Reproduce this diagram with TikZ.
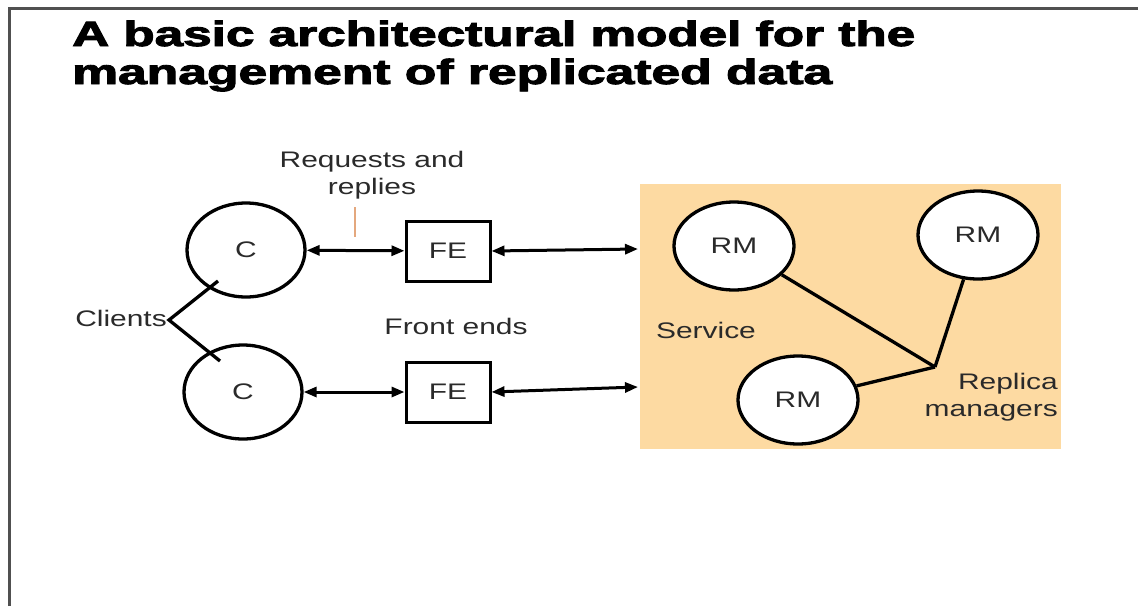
\documentclass[tikz,border=0pt]{standalone}
\usepackage{fontspec}
\setmainfont{Liberation Sans}
\newfontfamily\titlefont[FakeBold=2.5]{Liberation Sans Bold}
\usepackage{graphicx}
\usetikzlibrary{arrows.meta,shapes.geometric}
\definecolor{svc}{HTML}{FDDAA2}
\definecolor{tick}{HTML}{E4A87E}
\definecolor{frame}{HTML}{505050}
\definecolor{txt}{HTML}{2A2A2A}
\newcommand{\wide}[1]{\scalebox{1.33}[1]{#1}}
\tikzset{
  lbl/.style={font=\fontsize{22.5}{27}\selectfont, text=txt, inner sep=0pt},
  client/.style={ellipse, draw, line width=3.3pt, fill=white, minimum width=118pt, minimum height=94pt, inner sep=0pt, font=\fontsize{22.5}{27}\selectfont, text=txt},
  rmnode/.style={ellipse, draw, line width=3.3pt, fill=white, minimum width=120pt, minimum height=88pt, inner sep=0pt, font=\fontsize{22.5}{27}\selectfont, text=txt},
  febox/.style={rectangle, draw, line width=3pt, fill=white, minimum width=84pt, minimum height=60pt, inner sep=0pt, font=\fontsize{22.5}{27}\selectfont, text=txt},
  dbl/.style={line width=3pt, {Triangle[length=13pt,width=10pt]}-{Triangle[length=13pt,width=10pt]}},
  link/.style={line width=3.3pt},
  ttl/.style={font=\titlefont\fontsize{35}{40}\selectfont, inner sep=0pt, anchor=base west}
}
\begin{document}
\begin{tikzpicture}[x=1pt,y=-1pt]
\useasboundingbox (0,0) rectangle (1138,606);
\fill[white] (0,0) rectangle (1138,606);
% frame
\draw[frame, line width=3pt] (9,606) -- (9,8.5) -- (1138,8.5);
% title
\node[ttl] (t1) at (72,46) {\resizebox{843pt}{\height}{A basic architectural model for the}};
\node[ttl] (t2) at (72,84) {\resizebox{760pt}{\height}{management of replicated data}};
% service area
\fill[svc] (640,184) rectangle (1061,449);
\node[lbl] (service) at (706,330) {\wide{Service}};
\node[lbl, anchor=east] (rep) at (1058,398) {\wide{\begin{tabular}{@{}r@{}}Replica\\managers\end{tabular}}};
% clients
\node[client] (c1) at (246,250) {\wide{C}};
\node[client] (c2) at (243,392) {\wide{C}};
\node[lbl] (clients) at (121,318) {\wide{Clients}};
\coordinate (cj) at (169,320);
\coordinate (ca) at (218,281);
\coordinate (cb) at (220,361);
\draw[link] (ca) -- (cj) -- (cb);
% front ends
\node[febox] (fe1) at (448,251) {\wide{FE}};
\node[febox] (fe2) at (448,392) {\wide{FE}};
\node[lbl] (fends) at (456,326) {\wide{Front ends}};
\node[lbl] (req) at (372,176) {\wide{\begin{tabular}{@{}c@{}}Requests and\\replies\end{tabular}}};
\coordinate (tk1) at (355,207);
\coordinate (tk2) at (355,237);
\draw[tick, line width=2.2pt] (tk1) -- (tk2);
% arrows
\coordinate (s1) at (638,249);
\coordinate (s2) at (638,387);
\draw[dbl] (c1) -- (fe1);
\draw[dbl] (c2) -- (fe2);
\draw[dbl] (fe1.east) -- (s1);
\draw[dbl] (fe2.east) -- (s2);
% replica managers
\coordinate (jn) at (935,367);
\node[rmnode] (rm1) at (734,246) {\wide{RM}};
\node[rmnode] (rm2) at (978,235) {\wide{RM}};
\node[rmnode] (rm3) at (798,400) {\wide{RM}};
\draw[link] (rm1) -- (jn);
\draw[link] (rm2) -- (jn);
\draw[link] (rm3) -- (jn);
\end{tikzpicture}
\end{document}
